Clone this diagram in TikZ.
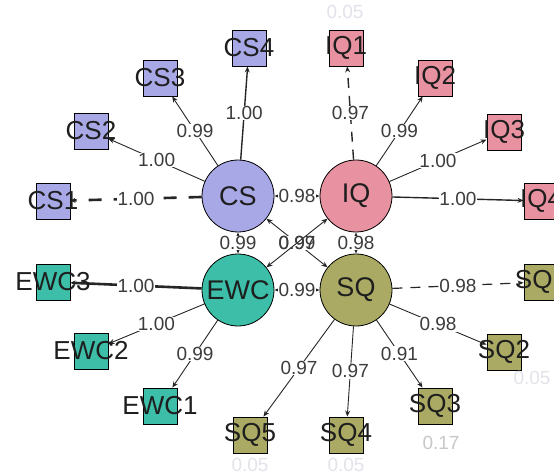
\documentclass[tikz,border=0pt]{standalone}
\usepackage{fontspec}
\setmainfont{Liberation Sans}
\usetikzlibrary{arrows.meta,backgrounds}
\definecolor{csfill}{RGB}{168,168,230}
\definecolor{iqfill}{RGB}{232,145,160}
\definecolor{ewcfill}{RGB}{60,190,168}
\definecolor{sqfill}{RGB}{170,170,100}
\definecolor{inkc}{RGB}{30,30,30}
\definecolor{lblc}{RGB}{60,60,60}
\definecolor{faintc}{RGB}{226,226,234}
\begin{document}
\begin{tikzpicture}[x=1pt,y=-1pt,
  lat/.style={circle,draw=black,line width=0.8pt,minimum size=72pt,inner sep=0pt,
    font=\fontsize{27}{27}\selectfont,text=inkc},
  man/.style={rectangle,draw=black,line width=0.9pt,minimum width=34pt,minimum height=36pt,inner sep=0pt},
  mtxt/.style={font=\fontsize{26}{26}\selectfont,text=inkc,inner sep=0pt},
  lbl/.style={fill=white,inner sep=0.6pt,font=\fontsize{19}{19}\selectfont,text=lblc},
  lblnf/.style={lbl,fill=none},
  faint/.style={inner sep=0pt,font=\fontsize{19}{19}\selectfont,text=faintc},
  ld/.style={draw=black!85,line width=0.9pt,-{Stealth[length=6pt,width=5pt]}},
  ldthick/.style={ld,line width=2.6pt,-{Stealth[length=5pt,width=5pt]}},
  ldmed/.style={ld,line width=1.4pt},
  cov/.style={draw=black!85,line width=0.9pt,{Stealth[length=6pt,width=5pt]}-{Stealth[length=6pt,width=5pt]}}
]
\useasboundingbox (0,0) rectangle (554,473);

% latent variables
\node[lat,fill=csfill]  (CS)  at (238,196) {CS};
\node[lat,fill=iqfill]  (IQ)  at (356,196) {IQ};
\node[lat,fill=ewcfill] (EWC) at (238,290) {EWC};
\node[lat,fill=sqfill]  (SQ)  at (356,290) {SQ};

% manifest boxes
\node[man,fill=csfill] (CS1) at (53,201) {};
\node[man,fill=csfill] (CS2) at (91,131) {};
\node[man,fill=csfill] (CS3) at (160,78) {};
\node[man,fill=csfill] (CS4) at (249,48) {};
\node[man,fill=iqfill] (IQ1) at (346,48) {};
\node[man,fill=iqfill] (IQ2) at (435,78) {};
\node[man,fill=iqfill] (IQ3) at (504,132) {};
\node[man,fill=iqfill] (IQ4) at (541,201) {};
\node[man,fill=ewcfill] (EWC3) at (53,282) {};
\node[man,fill=ewcfill] (EWC2) at (91,351) {};
\node[man,fill=ewcfill] (EWC1) at (160,406) {};
\node[man,fill=sqfill] (SQ1) at (541,282) {};
\node[man,fill=sqfill] (SQ2) at (504,352) {};
\node[man,fill=sqfill] (SQ3) at (435,406) {};
\node[man,fill=sqfill] (SQ4) at (346,435) {};
\node[man,fill=sqfill] (SQ5) at (250,435) {};

% manifest labels
\node[mtxt] (tCS1) at (CS1) {CS1};
\node[mtxt] (tCS2) at (CS2) {CS2};
\node[mtxt] (tCS3) at (CS3) {CS3};
\node[mtxt] (tCS4) at (CS4) {CS4};
\node[mtxt] (tIQ1) at (IQ1) {IQ1};
\node[mtxt] (tIQ2) at (IQ2) {IQ2};
\node[mtxt] (tIQ3) at (IQ3) {IQ3};
\node[mtxt] (tIQ4) at (IQ4) {IQ4};
\node[mtxt] (tEWC3) at (EWC3) {EWC3};
\node[mtxt] (tEWC2) at (EWC2) {EWC2};
\node[mtxt] (tEWC1) at (EWC1) {EWC1};
\node[mtxt] (tSQ1) at (SQ1) {SQ1};
\node[mtxt] (tSQ2) at (SQ2) {SQ2};
\node[mtxt] (tSQ3) at (SQ3) {SQ3};
\node[mtxt] (tSQ4) at (SQ4) {SQ4};
\node[mtxt] (tSQ5) at (SQ5) {SQ5};

% faint residual labels
\node[faint] (r1) at (345,12) {0.05};
\node[faint,text=black!22] (r2) at (441,443) {0.17};
\node[faint] (r3) at (532,378) {0.05};
\node[faint] (r4) at (250,465) {0.05};
\node[faint] (r5) at (346,465) {0.05};

\begin{scope}[on background layer]
% loadings
\draw[ldthick,dash pattern=on 13pt off 12pt] (CS) -- (CS1) node[midway,lbl] (l1) {1.00};
\draw[ld] (CS) -- (CS2) node[midway,lbl] (l2) {1.00};
\draw[ld] (CS) -- (CS3) node[midway,lbl] (l3) {0.99};
\draw[ldmed] (CS) -- (CS4) node[midway,lbl] (l4) {1.00};
\draw[ldmed,dash pattern=on 10pt off 8pt] (IQ) -- (IQ1) node[midway,lbl] (l5) {0.97};
\draw[ld] (IQ) -- (IQ2) node[midway,lbl] (l6) {0.99};
\draw[ld] (IQ) -- (IQ3) node[midway,lbl] (l7) {1.00};
\draw[ldmed] (IQ) -- (IQ4) node[midway,lbl] (l8) {1.00};
\draw[ldthick] (EWC) -- (EWC3) node[midway,lbl] (l9) {1.00};
\draw[ld] (EWC) -- (EWC2) node[midway,lbl] (l10) {1.00};
\draw[ld] (EWC) -- (EWC1) node[midway,lbl] (l11) {0.99};
\draw[ld,line width=1.2pt,dash pattern=on 10pt off 8pt] (SQ) -- (SQ1) node[midway,lbl] (l12) {0.98};
\draw[ld] (SQ) -- (SQ2) node[midway,lbl] (l13) {0.98};
\draw[ld] (SQ) -- (SQ3) node[midway,lbl] (l14) {0.91};
\draw[ld] (SQ) -- (SQ4) node[midway,lbl] (l15) {0.97};
\draw[ld] (SQ) -- (SQ5) node[midway,lbl] (l16) {0.97};
% covariances
\draw[cov] (CS) -- (IQ) node[midway,lbl] (c1) {0.98};
\draw[cov] (EWC) -- (SQ) node[midway,lbl] (c2) {0.99};
\draw[cov] (CS) -- (EWC) node[midway,lbl] (c3) {0.99};
\draw[cov] (IQ) -- (SQ) node[midway,lbl] (c4) {0.98};
\draw[cov] (CS) -- (SQ) node[midway,lbl] (c5) {0.99};
\draw[cov] (IQ) -- (EWC) node[midway,lblnf] (c6) {0.97};
\end{scope}
\end{tikzpicture}
\end{document}
